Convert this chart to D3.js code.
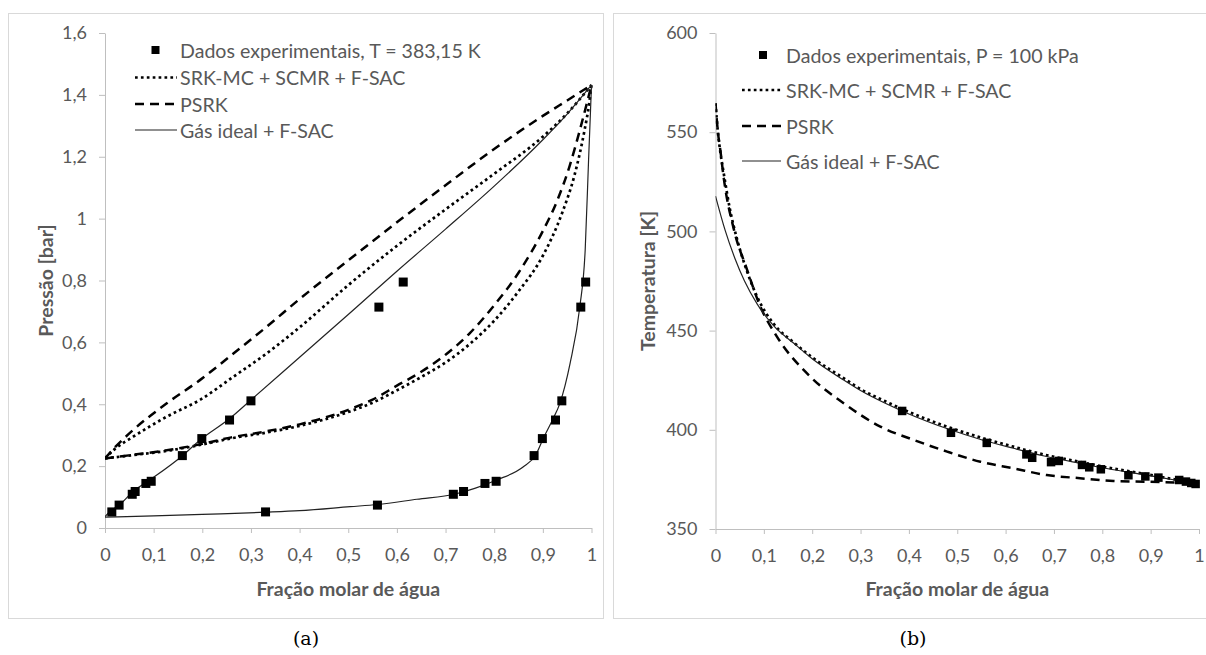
<!DOCTYPE html>
<html><head><meta charset="utf-8">
<script src="https://cdn.jsdelivr.net/npm/d3@7"></script>
<style>body{margin:0;background:#fff} svg{display:block}</style>
</head><body>
<svg id="c" width="1206" height="655"></svg>
<script>
// ---------- DATA: panel (a) P-x-y at T = 383,15 K ----------
const pExp = [0.052, 0.074, 0.109, 0.118, 0.144, 0.151, 0.234, 0.289, 0.349, 0.411, 0.714, 0.795];
const xExp = [0.014, 0.029, 0.056, 0.062, 0.084, 0.095, 0.159, 0.199, 0.256, 0.300, 0.563, 0.613];
const yExp = [0.330, 0.560, 0.716, 0.737, 0.781, 0.804, 0.882, 0.899, 0.926, 0.939, 0.978, 0.988];

const srkBubble = [[0,0.225],[0.02,0.255],[0.058,0.295],[0.127,0.36],[0.195,0.414],[0.264,0.489],[0.332,0.564],[0.401,0.650],[0.5,0.785],[0.6,0.912],[0.7,1.03],[0.8,1.145],[0.9,1.265],[0.95,1.34],[1,1.432]];
const srkDew = [[0,0.225],[0.06,0.236],[0.13,0.25],[0.2,0.27],[0.26,0.29],[0.33,0.308],[0.4,0.33],[0.5,0.375],[0.55,0.405],[0.6,0.445],[0.65,0.488],[0.7,0.535],[0.75,0.595],[0.8,0.67],[0.85,0.765],[0.9,0.88],[0.94,1.02],[0.965,1.14],[0.985,1.28],[0.995,1.37],[1,1.432]];
const psrkBubble = [[0,0.225],[0.02,0.26],[0.058,0.317],[0.127,0.403],[0.195,0.478],[0.264,0.564],[0.332,0.650],[0.4,0.74],[0.5,0.865],[0.6,0.988],[0.7,1.108],[0.8,1.225],[0.9,1.332],[0.95,1.382],[1,1.432]];
const psrkDew = [[0,0.225],[0.06,0.237],[0.13,0.252],[0.2,0.272],[0.26,0.293],[0.33,0.312],[0.4,0.335],[0.5,0.382],[0.55,0.415],[0.6,0.46],[0.65,0.505],[0.7,0.56],[0.75,0.63],[0.8,0.72],[0.85,0.825],[0.9,0.96],[0.93,1.06],[0.955,1.17],[0.975,1.28],[0.99,1.37],[1,1.432]];
const idealBubble = [[0,0.037],[0.01,0.053],[0.03,0.075],[0.058,0.118],[0.092,0.155],[0.161,0.236],[0.195,0.284],[0.257,0.355],[0.3,0.414],[0.4,0.552],[0.5,0.69],[0.6,0.83],[0.7,0.966],[0.8,1.105],[0.9,1.255],[0.95,1.338],[1,1.432]];
const idealDew = [[0,0.035],[0.1,0.039],[0.2,0.044],[0.33,0.051],[0.4,0.056],[0.504,0.069],[0.56,0.076],[0.641,0.093],[0.72,0.11],[0.76,0.128],[0.805,0.155],[0.86,0.198],[0.885,0.235],[0.901,0.29],[0.92,0.35],[0.935,0.403],[0.956,0.532],[0.976,0.715],[0.987,0.898],[0.994,1.19],[0.998,1.35],[1,1.432]];

// ---------- DATA: panel (b) T-x-y at P = 100 kPa ----------
const xTexp = [0.386,0.487,0.561,0.643,0.655,0.694,0.710,0.758,0.773,0.797,0.854,0.889,0.916,0.959,0.973,0.984,0.993];
const TExp  = [409.5,398.5,393.4,387.6,385.9,383.7,384.3,382.3,381.1,380.1,377.1,376.5,375.9,374.7,373.9,373.2,372.7];

const srkT = [[0,564.6],[0.005,550],[0.01,540],[0.017,529.3],[0.03,511],[0.045,495.7],[0.065,480],[0.086,467.1],[0.12,453.5],[0.162,444],[0.2,436.5],[0.265,426],[0.3,420.5],[0.35,414.5],[0.4,409],[0.48,401.5],[0.55,396],[0.616,391.5],[0.68,387.5],[0.754,383.8],[0.82,380.6],[0.892,377.6],[0.95,375],[1,372.8]];
const psrkT = [[0,564.6],[0.005,550],[0.01,541],[0.017,527],[0.038,501],[0.065,480.9],[0.093,462],[0.127,447],[0.196,426.8],[0.265,413.4],[0.341,401.6],[0.410,394.9],[0.479,389],[0.548,383.9],[0.616,380.6],[0.685,377.2],[0.754,375.6],[0.823,374.2],[0.892,373.8],[0.961,373.4],[1,373.0]];
const idealT = [[0,517.8],[0.02,500.5],[0.04,486.5],[0.06,475],[0.086,463.5],[0.12,452.5],[0.162,443.6],[0.2,435.8],[0.265,425.1],[0.3,419.8],[0.35,413.5],[0.4,408],[0.48,400.5],[0.55,395],[0.616,390.7],[0.68,386.8],[0.754,383.1],[0.82,380],[0.892,377.2],[0.95,374.7],[1,372.7]];

// ---------- TICKS ----------
const xTickVals = [0,0.1,0.2,0.3,0.4,0.5,0.6,0.7,0.8,0.9,1];
const xTickLabels = ["0","0,1","0,2","0,3","0,4","0,5","0,6","0,7","0,8","0,9","1"];
const pTickVals = [0,0.2,0.4,0.6,0.8,1,1.2,1.4,1.6];
const pTickLabels = ["0","0,2","0,4","0,6","0,8","1","1,2","1,4","1,6"];
const tTickVals = [350,400,450,500,550,600];
const tTickLabels = ["350","400","450","500","550","600"];

const legendA = ["Dados experimentais, T = 383,15 K","SRK-MC + SCMR + F-SAC","PSRK","Gás ideal + F-SAC"];
const legendB = ["Dados experimentais, P = 100 kPa","SRK-MC + SCMR + F-SAC","PSRK","Gás ideal + F-SAC"];

// ---------- DRAW ----------
const svg = d3.select("#c");
const GRAY = "#595959", AX = "#bfbfbf", FONT = "Lato, 'Open Sans', sans-serif";

svg.append("rect").attr("x",8.5).attr("y",13.5).attr("width",595).attr("height",605)
  .attr("fill","none").attr("stroke","#d9d9d9");
svg.append("rect").attr("x",613.5).attr("y",13.5).attr("width",620).attr("height",605)
  .attr("fill","none").attr("stroke","#d9d9d9");

const styles = {
  dot:  {w:2.7, dash:"2.7,3.2", color:"#000"},
  dash: {w:2.5, dash:"9,6", color:"#000"},
  solid:{w:1.2, dash:null, color:"#222"}
};

function panel(opt){
  const g = svg.append("g");
  const x = d3.scaleLinear().domain([0,1]).range(opt.xr);
  const y = d3.scaleLinear().domain(opt.yd).range(opt.yr);

  const ya = g.append("g").attr("transform",`translate(${opt.xr[0]},0)`)
    .call(d3.axisLeft(y).tickValues(opt.yTicks).tickFormat((d,i)=>opt.yLabels[i]).tickSize(6).tickSizeOuter(0).tickPadding(12));
  const xa = g.append("g").attr("transform",`translate(0,${opt.yr[0]})`)
    .call(d3.axisBottom(x).tickValues(xTickVals).tickFormat((d,i)=>xTickLabels[i]).tickSize(5).tickSizeOuter(0).tickPadding(15));
  [ya,xa].forEach(a=>{
    a.select(".domain").attr("stroke",AX);
    a.selectAll(".tick line").attr("stroke",AX);
    a.selectAll("text").attr("fill",GRAY).style("font-family",FONT).style("font-size","18px");
  });

  const clipId = "clip"+opt.id;
  g.append("clipPath").attr("id",clipId).append("rect")
    .attr("x",opt.xr[0]).attr("y",opt.yr[1]-5).attr("width",opt.xr[1]-opt.xr[0]+6).attr("height",opt.yr[0]-opt.yr[1]+5);
  const plot = g.append("g").attr("clip-path",`url(#${clipId})`);
  const line = d3.line().x(d=>x(d[0])).y(d=>y(d[1])).curve(d3.curveMonotoneX);
  opt.curves.forEach(c=>{
    const s = styles[c.style];
    plot.append("path").attr("d",line(c.data)).attr("fill","none")
      .attr("stroke",s.color).attr("stroke-width",s.w).attr("stroke-dasharray",s.dash);
  });
  const m = opt.msize;
  g.append("g").selectAll("rect").data(opt.points).join("rect")
    .attr("x",d=>x(d[0])-m/2).attr("y",d=>y(d[1])-m/2).attr("width",m).attr("height",m).attr("fill","#000");

  g.append("text").attr("transform",`translate(${opt.ytitleX},${(opt.yr[0]+opt.yr[1])/2}) rotate(-90)`)
    .attr("text-anchor","middle").attr("dominant-baseline","central")
    .attr("fill",GRAY).style("font-family",FONT).style("font-size","19.5px").style("font-weight","bold").text(opt.ytitle);
  g.append("text").attr("x",(opt.xr[0]+opt.xr[1])/2).attr("y",588)
    .attr("text-anchor","middle").attr("dominant-baseline","central")
    .attr("fill",GRAY).style("font-family",FONT).style("font-size","19.5px").style("font-weight","bold").text("Fração molar de água");

  const L = opt.legend;
  const kinds = ["marker","dot","dash","solid"];
  kinds.forEach((k,i)=>{
    const ly = L.ys[i];
    if(k==="marker"){
      g.append("rect").attr("x",L.mx-4).attr("y",ly-4).attr("width",8).attr("height",8).attr("fill","#000");
    } else {
      const s = styles[k];
      g.append("line").attr("x1",L.lx[0]).attr("x2",L.lx[1]).attr("y1",ly).attr("y2",ly)
        .attr("stroke",s.color).attr("stroke-width",s.w).attr("stroke-dasharray",s.dash);
    }
    g.append("text").attr("x",L.tx).attr("y",ly).attr("dominant-baseline","central")
      .attr("fill",GRAY).style("font-family",FONT).style("font-size","19.6px").text(L.labels[i]);
  });

  svg.append("text").attr("x",opt.capX).attr("y",638).attr("text-anchor","middle").attr("dominant-baseline","central")
    .attr("fill","#000").style("font-family","'DejaVu Serif', 'Liberation Serif', serif").style("font-size","19px").text(opt.caption);
}

const ptsA = xExp.map((v,i)=>[v,pExp[i]]).concat(yExp.map((v,i)=>[v,pExp[i]]));
panel({
  id:"a", xr:[105,591.5], yd:[0,1.6], yr:[528,33], yTicks:pTickVals, yLabels:pTickLabels,
  curves:[
    {data:srkBubble,style:"dot"},{data:srkDew,style:"dot"},
    {data:psrkBubble,style:"dash"},{data:psrkDew,style:"dash"},
    {data:idealBubble,style:"solid"},{data:idealDew,style:"solid"}],
  points:ptsA, msize:9, ytitle:"Pressão [bar]", ytitleX:45,
  legend:{mx:155.5, lx:[135,177], tx:180, ys:[50,77.5,104,130], labels:legendA},
  caption:"(a)", capX:306
});
panel({
  id:"b", xr:[715.5,1199], yd:[350,600], yr:[529,33], yTicks:tTickVals, yLabels:tTickLabels,
  curves:[{data:srkT,style:"dot"},{data:psrkT,style:"dash"},{data:idealT,style:"solid"}],
  points:xTexp.map((v,i)=>[v,TExp[i]]), msize:8.5, ytitle:"Temperatura [K]", ytitleX:647,
  legend:{mx:763, lx:[742,781], tx:786, ys:[55,90,126,161], labels:legendB},
  caption:"(b)", capX:913
});
</script>
</body></html>
